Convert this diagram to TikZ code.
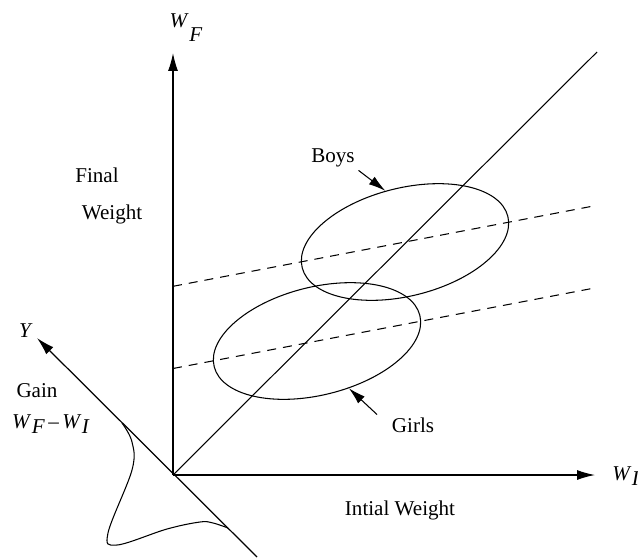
\documentclass[tikz,border=0pt]{standalone}
\usepackage{fontspec}
\setmainfont{Liberation Serif}
\usetikzlibrary{arrows.meta,shapes.geometric}
\newcommand{\wvar}[2][.25em]{\textit{W}\kern.02em\raisebox{-#1}{\textit{#2}}}
\tikzset{
	axis/.style={line width=.7pt, -{Latex[length=3.6mm,width=2mm]}},
	group/.style={draw, ellipse, line width=.6pt, inner sep=0pt, minimum width=4.24cm, minimum height=2.16cm, rotate=14},
	guide/.style={line width=.6pt, dash pattern=on 1.8mm off 1.4mm},
	pointer/.style={line width=.6pt, -{Latex[length=3.4mm,width=1.9mm]}},
	lbl/.style={inner sep=2pt, anchor=base, font=\fontsize{12}{14}\selectfont}
}
\begin{document}
\begin{tikzpicture}[x=.02cm, y=-.02cm]
		\useasboundingbox (0,0) rectangle (638,558);
		\coordinate (O) at (173,475);
		\coordinate (wftip) at (173,53);
		\coordinate (witip) at (595,475);
		\coordinate (ytip) at (37,338);
		\coordinate (ybot) at (257,557);
		\coordinate (diagend) at (597,52);
		\draw[axis] (O) -- (wftip);
		\draw[axis] (O) -- (witip);
		\draw[axis] (ybot) -- (ytip);
		\draw[line width=.6pt] (O) -- (diagend);
		\draw[line width=.6pt] plot[smooth, tension=.6] coordinates {(122,423) (132,442) (132,470) (108,533) (117,545) (167,529) (200,522) (213,523) (228,528)};
		\foreach \name/\cx/\cy in {boys/405/242, girls/317/341}{
				\node[group] (\name) at (\cx,\cy) {};
				\draw[guide] (173,{\cy+.191*(\cx-173)}) -- (597,{\cy-.191*(597-\cx)});
			}
		\node[lbl] (wf) at (186,27) {\wvar[.7em]{F}};
		\node[lbl] (wi) at (626,480) {\wvar{I}};
		\node[lbl] (ylabel) at (26,337) {\textit{Y}};
		\node[lbl] (final) at (97,182) {Final};
		\node[lbl] (weight) at (112,219) {Weight};
		\node[lbl] (gain) at (37,397) {Gain};
		\node[lbl] (gaindef) at (51,428) {\wvar{F}\kern2pt\textendash\kern2pt\wvar{I}};
		\node[lbl] (initial) at (400,515) {Intial Weight};
		\node[lbl] (boyslabel) at (333,162) {Boys};
		\node[lbl] (girlslabel) at (413,432) {Girls};
		\draw[pointer] (boyslabel.south east) -- (boys.97);
		\draw[pointer, shorten <=3mm] (girlslabel.west) -- (girls.290);
	\end{tikzpicture}
\end{document}
